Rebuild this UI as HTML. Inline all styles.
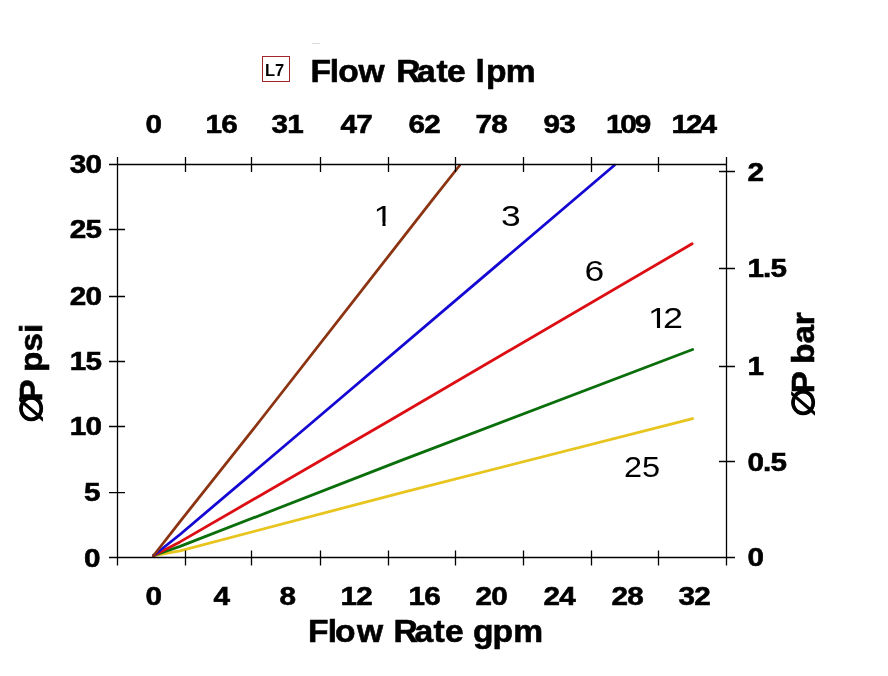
<!DOCTYPE html>
<html><head><meta charset="utf-8"><style>
html,body{margin:0;padding:0;background:#fff;width:888px;height:676px;overflow:hidden}
svg{display:block}
.b{font-family:"Liberation Sans",Arial,sans-serif;font-weight:bold;fill:#000;stroke:#000;stroke-width:0.6px}
.r{font-family:"Liberation Sans",Arial,sans-serif;font-weight:normal;fill:#000}
</style></head><body>
<svg width="888" height="676" viewBox="0 0 888 676">
<defs>
<clipPath id="k1"><rect x="360" y="190" width="40" height="32.6"/><rect x="382.45" y="222" width="3.1" height="6"/></clipPath>
<clipPath id="k12"><rect x="640" y="295" width="60" height="29.6"/><rect x="656.95" y="324" width="3.15" height="6"/><rect x="664.8" y="324" width="30" height="6"/></clipPath>
</defs>
<!-- L7 badge -->
<rect x="312" y="43" width="8" height="1" fill="#dcdcdc"/>
<rect x="262.5" y="56.5" width="27" height="25" fill="#fff" stroke="#a3262a" stroke-width="1"/>
<text class="b" x="274.6" y="76" font-size="16.5" text-anchor="middle" style="stroke:none">L7</text>
<!-- top title -->
<text class="b" transform="translate(0,81.7) scale(1.05,1)" font-size="32" x="295.71 314.1 322.1 341.43 349.43 377.43 397.14 415.81 425.71 433.71 452.95 462.86 481.71">Flow Rate lpm</text>
<!-- top labels -->
<g class="b" font-size="26.5" text-anchor="middle" letter-spacing="-0.8">
<text transform="translate(153.2,132.5) scale(1.12,1)">0</text>
<text transform="translate(221.2,132.5) scale(1.12,1)">16</text>
<text transform="translate(287.2,132.5) scale(1.12,1)">31</text>
<text transform="translate(356.2,132.5) scale(1.12,1)">47</text>
<text transform="translate(424.2,132.5) scale(1.12,1)">62</text>
<text transform="translate(491.2,132.5) scale(1.12,1)">78</text>
<text transform="translate(559.2,132.5) scale(1.12,1)">93</text>
<text transform="translate(627.6,132.5) scale(1.12,1)" letter-spacing="-1.8">109</text>
<text transform="translate(693.3,132.5) scale(1.12,1)" letter-spacing="-1.8">124</text>
</g>
<!-- bottom labels -->
<g class="b" font-size="26.5" text-anchor="middle" letter-spacing="-0.8">
<text transform="translate(153.2,605) scale(1.12,1)">0</text>
<text transform="translate(221.2,605) scale(1.12,1)">4</text>
<text transform="translate(287.2,605) scale(1.12,1)">8</text>
<text transform="translate(356.2,605) scale(1.12,1)">12</text>
<text transform="translate(424.2,605) scale(1.12,1)">16</text>
<text transform="translate(491.2,605) scale(1.12,1)">20</text>
<text transform="translate(559.2,605) scale(1.12,1)">24</text>
<text transform="translate(627.2,605) scale(1.12,1)">28</text>
<text transform="translate(694.2,605) scale(1.12,1)">32</text>
</g>
<!-- left labels -->
<g class="b" font-size="26.5" text-anchor="end" letter-spacing="-0.8">
<text transform="translate(101,173) scale(1.12,1)">30</text>
<text transform="translate(101,238) scale(1.12,1)">25</text>
<text transform="translate(101,305) scale(1.12,1)">20</text>
<text transform="translate(101,370) scale(1.12,1)">15</text>
<text transform="translate(101,435) scale(1.12,1)">10</text>
<text transform="translate(99.6,501.2) scale(1.12,1)">5</text>
<text transform="translate(99.6,566.5) scale(1.12,1)">0</text>
</g>
<!-- right labels -->
<g class="b" font-size="26.5" letter-spacing="-0.8">
<text transform="translate(747.5,180.5) scale(1.12,1)">2</text>
<text transform="translate(747.5,277) scale(1.12,1)">1.5</text>
<text transform="translate(747.5,374.5) scale(1.12,1)">1</text>
<text transform="translate(747.5,470.5) scale(1.12,1)">0.5</text>
<text transform="translate(747.5,566) scale(1.12,1)">0</text>
</g>
<!-- axis titles -->
<text class="b" transform="translate(42,422.5) rotate(-90) scale(1.07,1)" font-size="31">∅<tspan dx="-7.5">P</tspan><tspan dx="-1.4"> psi</tspan></text>
<text class="b" transform="translate(813.5,416.5) rotate(-90) scale(1.07,1)" font-size="31">∅<tspan dx="-5.2">P</tspan><tspan dx="-1.9"> bar</tspan></text>
<text class="b" transform="translate(0,642.3) scale(1.05,1)" font-size="32" x="293.33 312.19 319.05 340.0 348.0 374.76 394.76 412.76 423.81 431.81 450.57 469.14 488.86">Flow Rate gpm</text>
<!-- data lines -->
<g fill="none" stroke-width="2.8" stroke-linejoin="round" stroke-linecap="round">
<polyline stroke="#e8c41e" points="153.6,555.5 180,550.8 400,493.1 692.6,418.6"/>
<polyline stroke="#0a6e0a" points="153.6,555.5 180,546.4 400,460.9 692.6,349.5"/>
<polyline stroke="#dc0e14" points="153.6,555.5 180,541.9 390.6,420 692.1,243.8"/>
<polyline stroke="#1408d2" points="153.6,555.5 180,534.5 315,420 614.4,165.2"/>
<polyline stroke="#8c3412" points="153.6,555.5 180,521.6 260.5,420 432.6,199.6 459.6,165.5"/>
</g>
<!-- frame -->
<g stroke="#000" stroke-width="1.3" fill="none">
<path d="M117.5 157V565.5M726.5 157V565.5M109 164.5H726.5M109 557.5H735"/>
<path d="M109 229.5H125M109 296.5H125M109 361.5H125M109 426.5H125M109 492.7H125"/>
<path d="M719 171.5H735M719 268.5H735M719 366.5H735M719 461.5H735"/>
<path d="M185.5 157V172M251.5 157V172M320.5 157V172M388.5 157V172M455.5 157V172M523.5 157V172M591.5 157V172M658.5 157V172"/>
<path d="M185.5 550.5V565.5M251.5 550.5V565.5M320.5 550.5V565.5M388.5 550.5V565.5M455.5 550.5V565.5M523.5 550.5V565.5M591.5 550.5V565.5M658.5 550.5V565.5"/>
</g>
<!-- curve labels -->
<g class="r" font-size="29.5">
<g clip-path="url(#k1)"><text transform="translate(373.5,225.6) scale(1.2,1)">1</text></g>
<text transform="translate(501,225.5) scale(1.2,1)">3</text>
<text transform="translate(584.6,280.5) scale(1.2,1)">6</text>
<g clip-path="url(#k12)"><text transform="translate(647.9,328) scale(1.2,1)">1<tspan dx="-3.6">2</tspan></text></g>
<text transform="translate(624,477) scale(1.1,1)">25</text>
</g>
</svg>
</body></html>
